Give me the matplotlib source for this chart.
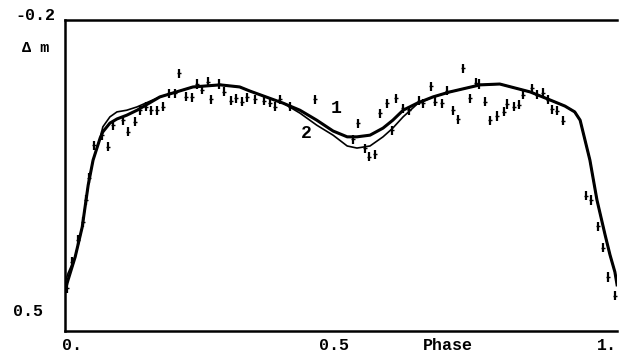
import matplotlib
matplotlib.use("Agg")
import matplotlib.pyplot as plt

# observed points (phase, delta m)
obs_phase = [0.0, 0.009, 0.020, 0.030, 0.035, 0.041, 0.050, 0.064, 0.075, 0.084,
             0.104, 0.113, 0.125, 0.134, 0.145, 0.154, 0.166, 0.177, 0.187, 0.198,
             0.207, 0.219, 0.230, 0.239, 0.248, 0.260, 0.265, 0.280, 0.290, 0.302,
             0.311, 0.322, 0.331, 0.346, 0.363, 0.373, 0.383, 0.392, 0.411, 0.457,
             0.526, 0.536, 0.548, 0.557, 0.567, 0.576, 0.589, 0.598, 0.606, 0.619,
             0.630, 0.649, 0.656, 0.670, 0.678, 0.690, 0.700, 0.710, 0.720, 0.729,
             0.742, 0.753, 0.759, 0.769, 0.779, 0.791, 0.804, 0.811, 0.823, 0.833,
             0.840, 0.856, 0.866, 0.877, 0.886, 0.894, 0.902, 0.914, 0.955, 0.965,
             0.977, 0.988, 0.997, 1.009]
obs_mag = [0.445, 0.382, 0.329, 0.286, 0.233, 0.180, 0.101, 0.077, 0.105, 0.053,
           0.041, 0.069, 0.045, 0.017, 0.009, 0.017, 0.017, 0.009, -0.024, -0.024,
           -0.072, -0.015, -0.014, -0.046, -0.032, -0.052, -0.009, -0.046, -0.028, -0.006,
           -0.012, -0.003, -0.014, -0.009, -0.006, -0.001, 0.009, -0.009, 0.009, -0.009,
           0.087, 0.048, 0.109, 0.129, 0.123, 0.024, 0.000, 0.065, -0.012, 0.012,
           0.017, -0.006, 0.000, -0.041, -0.003, 0.000, -0.030, 0.017, 0.039, -0.084,
           -0.012, -0.049, -0.046, -0.003, 0.041, 0.031, 0.021, 0.002, 0.009, 0.004,
           -0.020, -0.036, -0.020, -0.025, -0.008, 0.015, 0.018, 0.042, 0.223, 0.233,
           0.296, 0.348, 0.418, 0.463]

# model light curves
model_phase = [-0.004, 0.002, 0.015, 0.028, 0.039, 0.048, 0.061, 0.066, 0.079, 0.092,
               0.110, 0.129, 0.171, 0.232, 0.282, 0.318, 0.337, 0.398, 0.429, 0.460,
               0.490, 0.516, 0.534, 0.558, 0.582, 0.600, 0.619, 0.645, 0.674, 0.705,
               0.761, 0.797, 0.853, 0.889, 0.917, 0.935, 0.945, 0.954, 0.963, 0.976,
               0.991, 1.000, 1.009, 1.013]
model1_mag = [0.452, 0.425, 0.370, 0.298, 0.197, 0.137, 0.084, 0.069, 0.048, 0.038,
              0.029, 0.017, -0.015, -0.039, -0.044, -0.039, -0.029, 0.000, 0.017, 0.041,
              0.067, 0.081, 0.081, 0.077, 0.060, 0.041, 0.017, 0.000, -0.015, -0.027,
              -0.044, -0.046, -0.027, -0.008, 0.007, 0.021, 0.041, 0.089, 0.137, 0.233,
              0.317, 0.365, 0.406, 0.437]
model2_mag = [0.433, 0.409, 0.370, 0.298, 0.197, 0.137, 0.084, 0.057, 0.033, 0.021,
              0.017, 0.009, -0.015, -0.039, -0.044, -0.039, -0.029, 0.000, 0.024, 0.053,
              0.077, 0.103, 0.108, 0.103, 0.081, 0.060, 0.033, 0.002, -0.015, -0.027,
              -0.044, -0.046, -0.027, -0.008, 0.007, 0.021, 0.041, 0.089, 0.137, 0.233,
              0.317, 0.365, 0.406, 0.437]

x_ticks = [0.0, 0.5, 1.0]
x_ticklabels = ["0.", "0.5", "1."]
y_ticks = [-0.2, 0.5]
y_ticklabels = ["-0.2", "0.5"]

font = dict(family="Liberation Mono", weight="bold")
W, H = 619, 360

fig = plt.figure(figsize=(6.19, 3.6), dpi=100)
ax = fig.add_axes([65 / W, 1 - 331 / H, 552 / W, 311 / H])

ax.plot(model_phase, model1_mag, color="black", lw=2.2, solid_joinstyle="round")
ax.plot(model_phase, model2_mag, color="black", lw=1.2, solid_joinstyle="round")
ax.errorbar(obs_phase, obs_mag, yerr=0.011, fmt="_", color="black",
            ms=3.5, mew=1.0, elinewidth=1.6, capsize=0)

ax.set_xlim(-0.0037, 1.0129)
ax.set_ylim(0.548, -0.2)

ax.spines["right"].set_visible(False)
for s in ["left", "top", "bottom"]:
    ax.spines[s].set_linewidth(1.8)

ax.set_xticks(x_ticks)
ax.set_xticklabels([])
ax.set_yticks(y_ticks)
ax.set_yticklabels([])
ax.tick_params(length=0)

# tick labels placed like the scanned original
fs = 12
fig.text(55 / W, 1 - 16 / H, y_ticklabels[0], ha="right", va="center", fontsize=fs, **font)
fig.text(43 / W, 1 - 312 / H, y_ticklabels[1], ha="right", va="center", fontsize=fs, **font)
fig.text(62 / W, 1 - 345 / H, x_ticklabels[0], ha="left", va="center", fontsize=fs, **font)
fig.text(334 / W, 1 - 345 / H, x_ticklabels[1], ha="center", va="center", fontsize=fs, **font)
fig.text(617 / W, 1 - 345 / H, x_ticklabels[2], ha="right", va="center", fontsize=fs, **font)
fig.text(448 / W, 1 - 345 / H, "Phase", ha="center", va="center", fontsize=fs, **font)
fig.text(36 / W, 1 - 48 / H, "Δ m", ha="center", va="center", fontsize=11, **font)

ax.text(0.495, 0.014, "1", ha="center", va="center", fontsize=13, **font)
ax.text(0.440, 0.074, "2", ha="center", va="center", fontsize=13, **font)

fig.savefig("out.png", dpi=100)
